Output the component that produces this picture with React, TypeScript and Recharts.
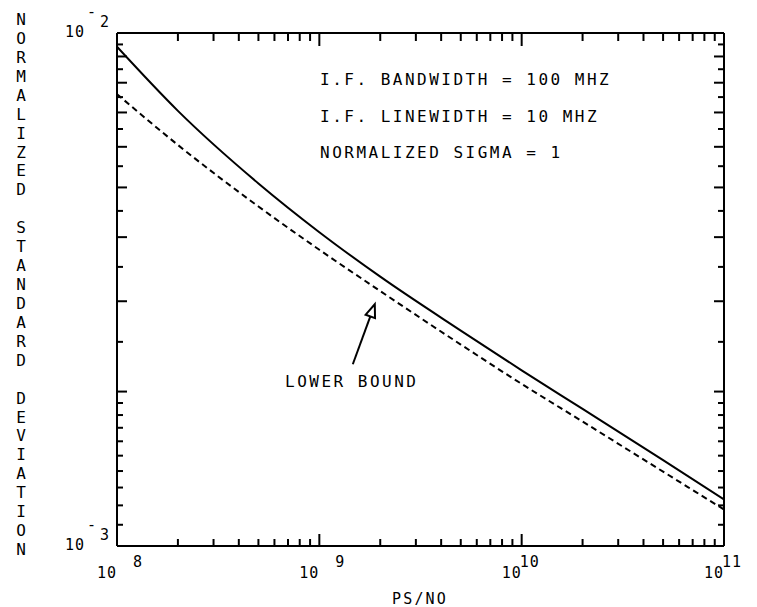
import React from "react";
import { LineChart, Line, XAxis, YAxis, ReferenceDot } from "recharts";

// PS/NO sample points and the two curves (normalized standard deviation)
const psNo = [1e8, 2e8, 5e8, 1e9, 2e9, 5e9, 1e10, 2e10, 5e10, 1e11];
const stdDev = [9.4e-3, 7.05e-3, 5.09e-3, 4.09e-3, 3.35e-3, 2.63e-3, 2.2e-3, 1.85e-3, 1.47e-3, 1.232e-3];
const lowerBound = [7.6e-3, 6.05e-3, 4.59e-3, 3.78e-3, 3.14e-3, 2.47e-3, 2.07e-3, 1.748e-3, 1.396e-3, 1.178e-3];

// axis ticks
const xDecades = [8, 9, 10, 11];
const yMantissas = [
  1, 1.1, 1.2, 1.3, 1.4, 1.5, 1.6, 1.7, 1.8, 1.9, 2, 2.5, 3, 3.5, 4, 4.5, 5, 5.5,
  6, 6.5, 7, 7.5, 8, 8.5, 9, 9.5, 10,
];
const yExponent = -3;

const infoLines = ["I.F. BANDWIDTH = 100 MHZ", "I.F. LINEWIDTH = 10 MHZ", "NORMALIZED SIGMA = 1"];
const yTitle = "NORMALIZED STANDARD DEVIATION";
const xTitle = "PS/NO";
const arrowLabel = "LOWER BOUND";
const arrowPoint = { x: 1.88e9, y: 2.96e-3 };

const W = 757;
const H = 607;
const FONT = "'DejaVu Sans Mono', monospace";

const xTicks: number[] = [];
xDecades.forEach((d, i) => {
  if (i === xDecades.length - 1) {
    xTicks.push(Math.pow(10, d));
    return;
  }
  for (let m = 1; m <= 9; m++) xTicks.push(m * Math.pow(10, d));
});
const yTicks = yMantissas.map((m) => m * Math.pow(10, yExponent));

const data = psNo.map((p, i) => ({ ps: p, sd: stdDev[i], lb: lowerBound[i] }));

const decadeOf = (v: number) => {
  const l = Math.log10(v);
  const e = Math.round(l);
  return Math.abs(l - e) < 1e-6 ? e : null;
};

const isEdgeX = (v: number) => v <= 1e8 * 1.0001 || v >= 1e11 * 0.9999;
const isEdgeY = (v: number) => v <= 1e-3 * 1.0001 || v >= 1e-2 * 0.9999;

const BottomTick = ({ x, y, payload }: any) => {
  const v = payload.value;
  const exp = decadeOf(v);
  const len = exp !== null ? 12 : 7;
  return (
    <g>
      {!isEdgeX(v) && <line x1={x} y1={y} x2={x} y2={y - len} stroke="#000" strokeWidth={2} />}
      {exp !== null && (
        <text y={y + 32} fontFamily={FONT} fontSize={15} fill="#000" letterSpacing={1}>
          <tspan x={x - 20}>10</tspan>
          <tspan x={x + (String(exp).length === 1 ? 16 : -2)} dy={-11}>
            {exp}
          </tspan>
        </text>
      )}
    </g>
  );
};

const TopTick = ({ x, y, payload }: any) => {
  const v = payload.value;
  const len = decadeOf(v) !== null ? 13 : 8;
  if (isEdgeX(v)) return <g />;
  return <line x1={x} y1={y} x2={x} y2={y + len} stroke="#000" strokeWidth={2} />;
};

const LeftTick = ({ x, y, payload }: any) => {
  const v = payload.value;
  const mant = v / Math.pow(10, yExponent);
  const len = Math.abs(mant - Math.round(mant)) < 1e-6 ? 10 : 6;
  const exp = decadeOf(v);
  return (
    <g>
      {!isEdgeY(v) && <line x1={x} y1={y} x2={x + len} y2={y} stroke="#000" strokeWidth={2} />}
      {exp !== null && (
        <g fontFamily={FONT} fontSize={15} fill="#000">
          <text x={x - 32} y={y + 4} textAnchor="end" letterSpacing={1}>
            10
          </text>
          <text x={x - 30} y={y - 6}>
            <tspan dy={-10}>-</tspan>
            <tspan dx={4} dy={10}>
              {Math.abs(exp)}
            </tspan>
          </text>
        </g>
      )}
    </g>
  );
};

const RightTick = ({ x, y, payload }: any) => {
  const v = payload.value;
  const mant = v / Math.pow(10, yExponent);
  const len = Math.abs(mant - Math.round(mant)) < 1e-6 ? 10 : 6;
  if (isEdgeY(v)) return <g />;
  return <line x1={x} y1={y} x2={x - len} y2={y} stroke="#000" strokeWidth={2} />;
};

// open-headed arrow whose tip sits at the reference point
const ArrowShape = ({ cx, cy }: any) => {
  const dx = -22;
  const dy = 60;
  const n = Math.hypot(dx, dy);
  const ux = -dx / n;
  const uy = -dy / n;
  const bx = cx - ux * 13;
  const by = cy - uy * 13;
  const px = -uy * 5;
  const py = ux * 5;
  return (
    <g stroke="#000" strokeWidth={2} fill="none">
      <line x1={cx + dx} y1={cy + dy} x2={bx} y2={by} />
      <polygon points={`${cx},${cy} ${bx + px},${by + py} ${bx - px},${by - py}`} strokeLinejoin="miter" />
    </g>
  );
};

const axisLine = { stroke: "#000", strokeWidth: 2 };

export default function App() {
  return (
    <div style={{ position: "absolute", left: 0, top: 0, width: W, height: H, background: "#fff" }}>
      <LineChart width={W} height={H} data={data} margin={{ top: 32, right: 32, bottom: 60, left: 116 }}>
        <XAxis
          dataKey="ps"
          type="number"
          scale="log"
          domain={[1e8, 1e11]}
          allowDataOverflow
          ticks={xTicks}
          interval={0}
          height={1}
          tickSize={0}
          tickMargin={0}
          tickLine={false}
          tick={<BottomTick />}
          axisLine={axisLine}
        />
        <XAxis
          xAxisId="top"
          orientation="top"
          dataKey="ps"
          type="number"
          scale="log"
          domain={[1e8, 1e11]}
          allowDataOverflow
          ticks={xTicks}
          interval={0}
          height={1}
          tickSize={0}
          tickMargin={0}
          tickLine={false}
          tick={<TopTick />}
          axisLine={axisLine}
        />
        <YAxis
          type="number"
          scale="log"
          domain={[1e-3, 1e-2]}
          allowDataOverflow
          ticks={yTicks}
          interval={0}
          width={1}
          tickSize={0}
          tickMargin={0}
          tickLine={false}
          tick={<LeftTick />}
          axisLine={axisLine}
        />
        <YAxis
          yAxisId="right"
          orientation="right"
          type="number"
          scale="log"
          domain={[1e-3, 1e-2]}
          allowDataOverflow
          ticks={yTicks}
          interval={0}
          width={1}
          tickSize={0}
          tickMargin={0}
          tickLine={false}
          tick={<RightTick />}
          axisLine={axisLine}
        />
        <Line
          type="monotone"
          dataKey="sd"
          stroke="#000"
          strokeWidth={2}
          dot={false}
          isAnimationActive={false}
        />
        <Line
          type="monotone"
          dataKey="lb"
          stroke="#000"
          strokeWidth={2}
          strokeDasharray="6 4"
          dot={false}
          isAnimationActive={false}
        />
        <ReferenceDot x={arrowPoint.x} y={arrowPoint.y} r={0} shape={<ArrowShape />} />
      </LineChart>

      <svg
        width={W}
        height={H}
        style={{ position: "absolute", left: 0, top: 0, pointerEvents: "none" }}
        fontFamily={FONT}
        fill="#000"
      >
        {infoLines.map((t, i) => (
          <text key={t} x={320} y={85 + i * 36.5} fontSize={16} letterSpacing={2.5}>
            {t}
          </text>
        ))}
        <text x={285} y={387} fontSize={16} letterSpacing={2.5}>
          {arrowLabel}
        </text>
        <text x={420} y={604} fontSize={15} letterSpacing={2.2} textAnchor="middle">
          {xTitle}
        </text>
        {yTitle.split("").map((c, i) =>
          c === " " ? null : (
            <text key={i} x={21} y={25 + i * 18.93} fontSize={16} textAnchor="middle">
              {c}
            </text>
          )
        )}
      </svg>
    </div>
  );
}
